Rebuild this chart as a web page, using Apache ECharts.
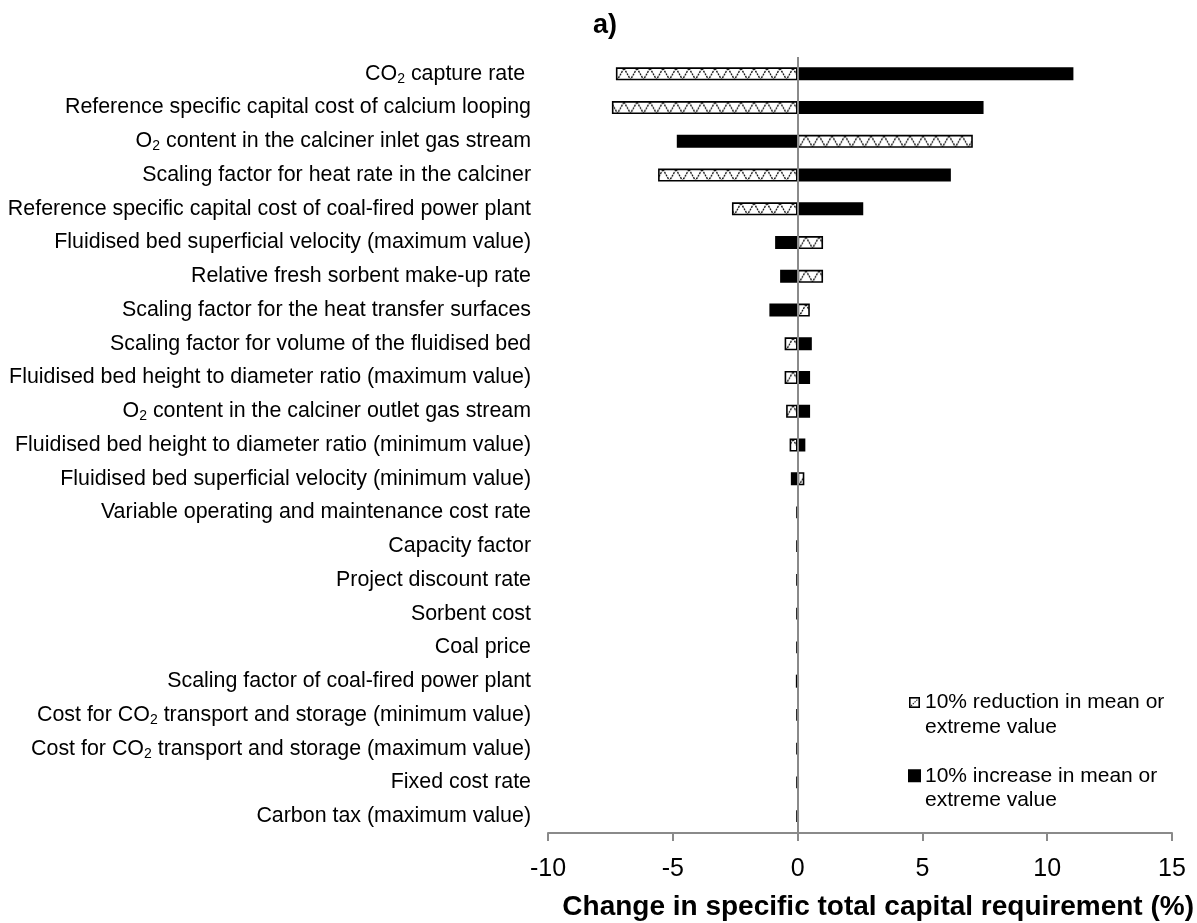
<!DOCTYPE html>
<html>
<head>
<meta charset="utf-8">
<script src="https://cdn.jsdelivr.net/npm/echarts@6/dist/echarts.min.js"></script>
<style>
html,body{margin:0;padding:0;background:#fff;}
#chart{width:1197px;height:923px;}
</style>
</head>
<body>
<div id="chart"></div>
<script>
const categories = [
  'CO₂ capture rate ',
  'Reference specific capital cost of calcium looping',
  'O₂ content in the calciner inlet gas stream',
  'Scaling factor for heat rate in the calciner',
  'Reference specific capital cost of coal-fired power plant',
  'Fluidised bed superficial velocity (maximum value)',
  'Relative fresh sorbent make-up rate',
  'Scaling factor for the heat transfer surfaces',
  'Scaling factor for volume of the fluidised bed',
  'Fluidised bed height to diameter ratio (maximum value)',
  'O₂ content in the calciner outlet gas stream',
  'Fluidised bed height to diameter ratio (minimum value)',
  'Fluidised bed superficial velocity (minimum value)',
  'Variable operating and maintenance cost rate',
  'Capacity factor',
  'Project discount rate',
  'Sorbent cost',
  'Coal price',
  'Scaling factor of coal-fired power plant',
  'Cost for CO₂ transport and storage (minimum value)',
  'Cost for CO₂ transport and storage (maximum value)',
  'Fixed cost rate',
  'Carbon tax (maximum value)'
];
const reductionValues = [-7.28, -7.44, 7.02, -5.59, -2.63, 1.02, 1.02, 0.49, -0.52, -0.52, -0.46, -0.32, 0.27, -0.05, -0.05, -0.05, -0.05, -0.05, -0.07, -0.05, -0.05, -0.05, -0.05];
const increaseValues  = [11.05, 7.45, -4.84, 6.14, 2.63, -0.90, -0.70, -1.13, 0.57, 0.50, 0.50, 0.31, -0.27, 0.05, 0.05, 0.05, 0.05, 0.05, 0.05, 0.05, 0.05, 0.05, 0.05];
const seriesNames = ['10% reduction in mean or extreme value', '10% increase in mean or extreme value'];
const xMin = -10, xMax = 15, xInterval = 5;
const titleText = 'a)';
const axisTitle = 'Change in specific total capital requirement (%)';

const FONT = '"Liberation Sans", Arial, sans-serif';
const GRID_TOP = 57, GRID_BOTTOM = 90;
const plotH = 923 - GRID_TOP - GRID_BOTTOM;
const rowH = plotH / categories.length;

function zigzagCanvas() {
  const c = document.createElement('canvas');
  c.width = 13; c.height = 34;
  const g = c.getContext('2d');
  g.fillStyle = '#fff'; g.fillRect(0, 0, 13, 34);
  g.strokeStyle = '#000'; g.lineWidth = 1.3;
  g.setLineDash([2, 1]);
  g.beginPath();
  g.moveTo(0, 11.3); g.lineTo(6.5, 22.7); g.lineTo(13, 11.3);
  g.stroke();
  return c;
}
function legendIcon() {
  const c = document.createElement('canvas');
  c.width = 11; c.height = 11;
  const g = c.getContext('2d');
  g.fillStyle = '#fff'; g.fillRect(0, 0, 11, 11);
  g.strokeStyle = '#000'; g.lineWidth = 1.6;
  g.strokeRect(0.8, 0.8, 9.4, 9.4);
  g.strokeStyle = '#222'; g.lineWidth = 1.1; g.setLineDash([1.5, 1]);
  g.beginPath(); g.moveTo(2, 9); g.lineTo(9, 2); g.stroke();
  return c.toDataURL();
}

const hatch = { image: zigzagCanvas(), repeat: 'repeat', x: 0, y: GRID_TOP, scaleX: 1, scaleY: rowH / 34 };

const chart = echarts.init(document.getElementById('chart'), null, { renderer: 'canvas' });
chart.setOption({
  animation: false,
  backgroundColor: '#fff',
  textStyle: { fontFamily: FONT },
  title: [
    { text: titleText, left: 593, top: 12, padding: 0,
      textStyle: { fontFamily: FONT, fontWeight: 'bold', fontSize: 27, color: '#000' } },
    { text: axisTitle, right: 3, top: 893, padding: 0,
      textStyle: { fontFamily: FONT, fontWeight: 'bold', fontSize: 28, color: '#000' } }
  ],
  legend: {
    orient: 'vertical',
    left: 908, top: 666, padding: 0,
    itemWidth: 11, itemHeight: 11, itemGap: 0.4,
    selectedMode: false,
    data: [
      { name: seriesNames[0], icon: 'image://' + legendIcon() },
      { name: seriesNames[1], icon: 'rect' }
    ],
    formatter: n => ' \n' + n.replace(' extreme', '\nextreme'),
    textStyle: { fontFamily: FONT, fontSize: 21, color: '#000', lineHeight: 24.3 }
  },
  grid: { left: 548, right: 25, top: GRID_TOP, bottom: GRID_BOTTOM, containLabel: false },
  xAxis: {
    type: 'value', min: xMin, max: xMax, interval: xInterval,
    splitLine: { show: false },
    axisLine: { show: true, onZero: false, lineStyle: { color: '#8a8a8a', width: 2 } },
    axisTick: { show: true, length: 8, inside: false, lineStyle: { color: '#8a8a8a', width: 2 } },
    axisLabel: { fontFamily: FONT, fontSize: 25, color: '#000', margin: 24 }
  },
  yAxis: {
    type: 'category', inverse: true, data: categories,
    axisLine: { show: false }, axisTick: { show: false }, splitLine: { show: false },
    axisLabel: {
      fontFamily: FONT, fontSize: 21.4, color: '#000', margin: 17, lineHeight: 24,
      formatter: v => v.replace('₂', '{s|2}'),
      rich: { s: { fontFamily: FONT, fontSize: 14, color: '#000', verticalAlign: 'bottom', lineHeight: 20 } }
    }
  },
  series: [
    {
      name: seriesNames[0], type: 'bar', stack: 'total', barWidth: 13,
      data: reductionValues,
      itemStyle: { color: hatch, borderColor: '#000', borderWidth: 1.6 }
    },
    {
      name: seriesNames[1], type: 'bar', stack: 'total', barWidth: 13,
      data: increaseValues,
      itemStyle: { color: '#000', borderColor: '#000', borderWidth: 1.6 }
    },
    {
      name: 'zero', type: 'line', data: [], z: 10, silent: true,
      markLine: {
        silent: true, symbol: ['none', 'none'], label: { show: false }, animation: false,
        lineStyle: { color: '#8a8a8a', width: 2, type: 'solid' },
        data: [{ xAxis: 0 }]
      }
    }
  ]
});
</script>
</body>
</html>
